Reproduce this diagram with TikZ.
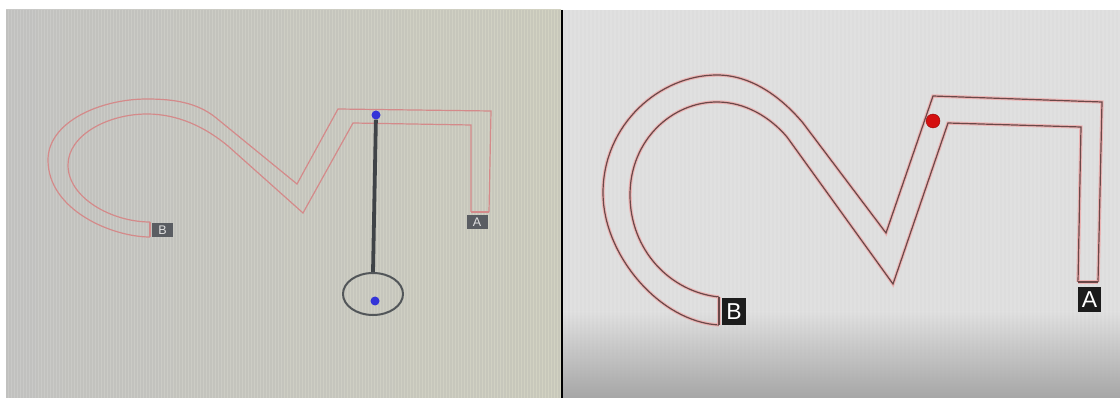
\documentclass[tikz,border=0pt]{standalone}
\usepackage{fontspec}
\setmainfont{Liberation Sans}
\usetikzlibrary{shapes.geometric}
\definecolor{scrL1}{HTML}{C9C9C7}
\definecolor{scrL2}{HTML}{DDDDD5}
\definecolor{scrL3}{HTML}{D2D2C2}
\definecolor{scrR}{HTML}{E0E0E0}
\definecolor{scrRlow}{HTML}{A6A6A6}
\definecolor{trkpink}{HTML}{D48A8A}
\definecolor{trkdark}{HTML}{6A4848}
\definecolor{trkglow}{HTML}{F2A4A4}
\definecolor{boxgray}{HTML}{5A5D62}
\definecolor{boxdark}{HTML}{1C1C1C}
\definecolor{rodgray}{HTML}{3F4347}
\definecolor{dotblue}{HTML}{3434D8}
\definecolor{dotred}{HTML}{D41010}
\tikzset{
  stripe/.style={draw=black!40,line width=1.1pt,opacity=0.16},
  stripe-r/.style={draw=black!30,line width=1.4pt,opacity=0.06},
  track-l/.style={draw=trkpink,line width=1.2pt,line join=miter},
  track-r/.style={draw=trkdark,line width=1.2pt,line join=miter,preaction={draw=trkglow,line width=3.4pt,opacity=0.7}},
  lbl-gray/.style={fill=boxgray,text=white!88!black,minimum width=21pt,minimum height=14pt,inner sep=0pt,font=\fontsize{12.5}{12.5}\selectfont},
  lbl-dark/.style={fill=boxdark,text=white,minimum width=24pt,minimum height=27pt,inner sep=0pt,font=\fontsize{23}{23}\selectfont},
  dot-b/.style={circle,fill=dotblue,minimum size=9pt,inner sep=0pt},
  dot-r/.style={circle,fill=dotred,draw=dotred!70!black,line width=0.4pt,minimum size=14pt,inner sep=0pt},
  rod/.style={draw=rodgray,line width=3.8pt},
  bob/.style={draw=rodgray!90,ellipse,line width=2pt,minimum width=60pt,minimum height=42pt,inner sep=0pt},
}

\begin{document}
\begin{tikzpicture}[x=1pt,y=-1pt]
  \useasboundingbox (0,0) rectangle (1120,398);
  \fill[white] (0,0) rectangle (1120,398);

  % LEFT PANEL: first screen, with pendulum
  \shade[left color=scrL1,middle color=scrL2,right color=scrL3] (6,10) rectangle (561,398);
  \foreach \x in {7,10,...,559} \draw[stripe] (\x,10) -- (\x,398);

  \draw[track-l] (150,237) .. controls (112,237) and (48,210) .. (48,160)
    .. controls (48,122) and (100,99) .. (147,99)
    .. controls (175,99) and (197,103) .. (215,117)
    -- (297,184) -- (338,109) -- (491,111) -- (489,212);
  \draw[track-l] (150,222) .. controls (112,222) and (68,198) .. (68,165)
    .. controls (68,135) and (108,114) .. (147,114)
    .. controls (178,114) and (205,127) .. (228,146)
    -- (303,213) -- (353,123) -- (471,125) -- (471,212);
  \draw[track-l] (150,222) -- (150,237);
  \draw[track-l] (471,212) -- (489,212);

  \node[lbl-gray] (bL) at (162.5,230) {B};
  \node[lbl-gray] (aL) at (477,222)   {A};

  \node[dot-b] (pivot) at (376,115) {};
  \node[bob]   (bob)   at (373,294) {};
  \node[dot-b] (mass)  at (375,301) {};
  \draw[rod] (pivot) -- (bob.north);

  % RIGHT PANEL: second screen, with red ball
  \fill[scrR] (563,10) rectangle (1120,398);
  \shade[top color=scrR,bottom color=scrRlow] (563,312) rectangle (1120,398);
  \foreach \x in {565,569,...,1117} \draw[stripe-r] (\x,10) -- (\x,398);
  \draw[black,line width=2pt] (562,10) -- (562,398);

  \draw[track-r] (719,325) .. controls (660,322) and (603,255) .. (603,193)
    .. controls (603,124) and (660,75) .. (717,75)
    .. controls (752,75) and (782,98) .. (803,123)
    -- (886,233) -- (933,96) -- (1102,102) -- (1098,282);
  \draw[track-r] (719,297) .. controls (670,292) and (630,250) .. (630,195)
    .. controls (630,140) and (672,102) .. (717,102)
    .. controls (745,102) and (770,117) .. (787,137)
    -- (893,284) -- (948,123) -- (1081,127) -- (1078,282);
  \draw[track-r] (719,297) -- (719,325);
  \draw[track-r] (1078,282) -- (1098,282);

  \node[lbl-dark] (bR) at (734,311.5)  {B};
  \node[lbl-dark,minimum width=23pt,minimum height=25pt] (aR) at (1089.5,299.5) {A};

  \node[dot-r] (ball) at (933,121) {};

\end{tikzpicture}
\end{document}
